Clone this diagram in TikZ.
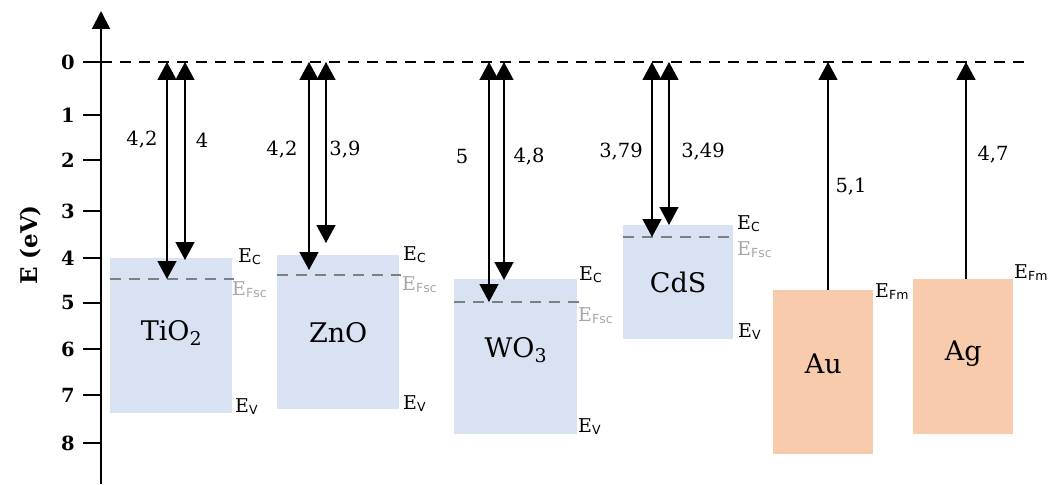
\documentclass[tikz,border=0pt]{standalone}
\usepackage{fontspec}
\setmainfont{DejaVu Serif}
\newfontfamily\subf{DejaVu Sans}
\usetikzlibrary{arrows.meta}
\definecolor{bandblue}{HTML}{D9E2F3}
\definecolor{metalor}{HTML}{F8CBAD}
\definecolor{fermigray}{HTML}{7F7F7F}
\definecolor{labgray}{HTML}{A6A6A6}
\newcommand{\Elev}[1]{E\raisebox{-0.3ex}{\fontsize{12.5}{13}\subf #1}}
\newcommand{\subtwo}[1]{\raisebox{-0.35ex}{\fontsize{19}{19}\selectfont #1}}
\begin{document}
\begin{tikzpicture}[x=1pt,y=-1pt,
  band/.style={fill=bandblue,draw=none,inner sep=0pt,anchor=north west,font=\fontsize{27}{28}\selectfont},
  metal/.style={fill=metalor,draw=none,inner sep=0pt,anchor=north west,font=\fontsize{27}{28}\selectfont},
  boxtext/.style={font=\fontsize{27}{28}\selectfont,inner sep=0pt},
  fermi/.style={draw=fermigray,line width=2.4pt,dash pattern=on 11pt off 8pt},
  vac/.style={draw=black,line width=2.6pt,dash pattern=on 11pt off 8pt},
  varrow/.style={line width=1.4pt,{Triangle[width=19pt,length=18pt]}-{Triangle[width=19pt,length=18pt]}},
  uparrow/.style={line width=1.4pt,-{Triangle[width=19pt,length=18pt]}},
  val/.style={font=\fontsize{19.5}{20}\selectfont,inner sep=0pt},
  elab/.style={font=\fontsize{19}{20}\selectfont,inner sep=0pt,anchor=base west},
  flab/.style={elab,text=labgray},
  ticklab/.style={font=\bfseries\fontsize{19.5}{20}\selectfont,anchor=east,inner sep=0pt},
  tick/.style={line width=2.6pt}
]
\useasboundingbox (0,0) rectangle (1048,484);
\clip (0,0) rectangle (1048,484);

% boxes
\node[band,minimum width=122pt,minimum height=155pt] (tio2) at (110,258) {};
\node[boxtext] (tio2t) at ([yshift=3pt]tio2.center) {TiO\subtwo{2}};
\node[band,minimum width=122pt,minimum height=154pt] (zno) at (277,255) {ZnO};
\node[band,minimum width=123pt,minimum height=155pt] (wo3) at (454,279) {};
\node[boxtext] (wo3t) at ([yshift=7pt]wo3.center) {WO\subtwo{3}};
\node[band,minimum width=110pt,minimum height=114pt] (cds) at (623,225) {CdS};
\node[metal,minimum width=100pt,minimum height=164pt] (au) at (773,290) {};
\node[boxtext] (aut) at ([yshift=8pt]au.center) {Au};
\node[metal,minimum width=100pt,minimum height=155pt] (ag) at (913,279) {};
\node[boxtext] (agt) at ([yshift=3pt]ag.center) {Ag};

% Fermi levels of semiconductors
\coordinate (f1a) at (110,279); \coordinate (f1b) at (234,279);
\coordinate (f2a) at (277,275); \coordinate (f2b) at (401,275);
\coordinate (f3a) at (454,302); \coordinate (f3b) at (579,302);
\coordinate (f4a) at (623,237); \coordinate (f4b) at (735,237);
\draw[fermi] (f1a) -- (f1b);
\draw[fermi] (f2a) -- (f2b);
\draw[fermi] (f3a) -- (f3b);
\draw[fermi] (f4a) -- (f4b);

% axis
\coordinate (axb) at (101,484);
\coordinate (axt) at (101,11);
\draw[line width=2pt,-{Triangle[width=18pt,length=18pt]}] (axb) -- (axt);
\foreach \v/\yy in {0/62,1/115,2/160,3/211,4/258,5/303,6/349,7/395,8/443}{
  \coordinate (tk\v) at (83,\yy);
  \coordinate (tke\v) at (101,\yy);
  \draw[tick] (tk\v) -- (tke\v);
  \node[ticklab] (tl\v) at (75,\yy) {\v};
}
\node[font=\bfseries\fontsize{23}{24}\selectfont,rotate=90] (ylab) at (31,245) {E (eV)};

% vacuum level
\coordinate (v0) at (101,62);
\coordinate (v1) at (1026,62);
\draw[vac] (v0) -- (v1);

% arrows
\coordinate (a1t) at (167,62);  \coordinate (a1b) at (167,279);
\coordinate (b1t) at (185,62);  \coordinate (b1b) at (185,260);
\coordinate (a2t) at (309,62);  \coordinate (a2b) at (309,270);
\coordinate (b2t) at (326,62);  \coordinate (b2b) at (326,243);
\coordinate (a3t) at (489,62);  \coordinate (a3b) at (489,302);
\coordinate (b3t) at (504,62);  \coordinate (b3b) at (504,280);
\coordinate (a4t) at (652,62);  \coordinate (a4b) at (652,237);
\coordinate (b4t) at (669,62);  \coordinate (b4b) at (669,225);
\coordinate (m1t) at (828,62);  \coordinate (m1b) at (828,290);
\coordinate (m2t) at (966,62);  \coordinate (m2b) at (966,279);
\draw[varrow] (a1t) -- (a1b);
\draw[varrow] (b1t) -- (b1b);
\draw[varrow] (a2t) -- (a2b);
\draw[varrow] (b2t) -- (b2b);
\draw[varrow] (a3t) -- (a3b);
\draw[varrow] (b3t) -- (b3b);
\draw[varrow] (a4t) -- (a4b);
\draw[varrow] (b4t) -- (b4b);
\draw[uparrow] (m1b) -- (m1t);
\draw[uparrow] (m2b) -- (m2t);

% values
\node[val] (n1) at (142,140) {4,2};
\node[val] (n2) at (202,140) {4};
\node[val] (n3) at (282,150) {4,2};
\node[val] (n4) at (345,150) {3,9};
\node[val] (n5) at (462,157) {5};
\node[val] (n6) at (529,157) {4,8};
\node[val] (n7) at (621,152) {3,79};
\node[val] (n8) at (703,152) {3,49};
\node[val] (n9) at (851,187) {5,1};
\node[val] (n10) at (993,155) {4,7};

% level labels
\node[elab] (ec1) at (238,262) {\Elev{C}};
\node[flab] (ef1) at (232,295) {\Elev{Fsc}};
\node[elab] (ev1) at (235,412) {\Elev{V}};
\node[elab] (ec2) at (403,260) {\Elev{C}};
\node[flab] (ef2) at (402,290) {\Elev{Fsc}};
\node[elab] (ev2) at (403,409) {\Elev{V}};
\node[elab] (ec3) at (579,280) {\Elev{C}};
\node[flab] (ef3) at (578,321) {\Elev{Fsc}};
\node[elab] (ev3) at (578,432) {\Elev{V}};
\node[elab] (ec4) at (737,229) {\Elev{C}};
\node[flab] (ef4) at (737,255) {\Elev{Fsc}};
\node[elab] (ev4) at (738,337) {\Elev{V}};
\node[elab] (efm1) at (875,297) {\Elev{Fm}};
\node[elab] (efm2) at (1014,278) {\Elev{Fm}};
\end{tikzpicture}
\end{document}
